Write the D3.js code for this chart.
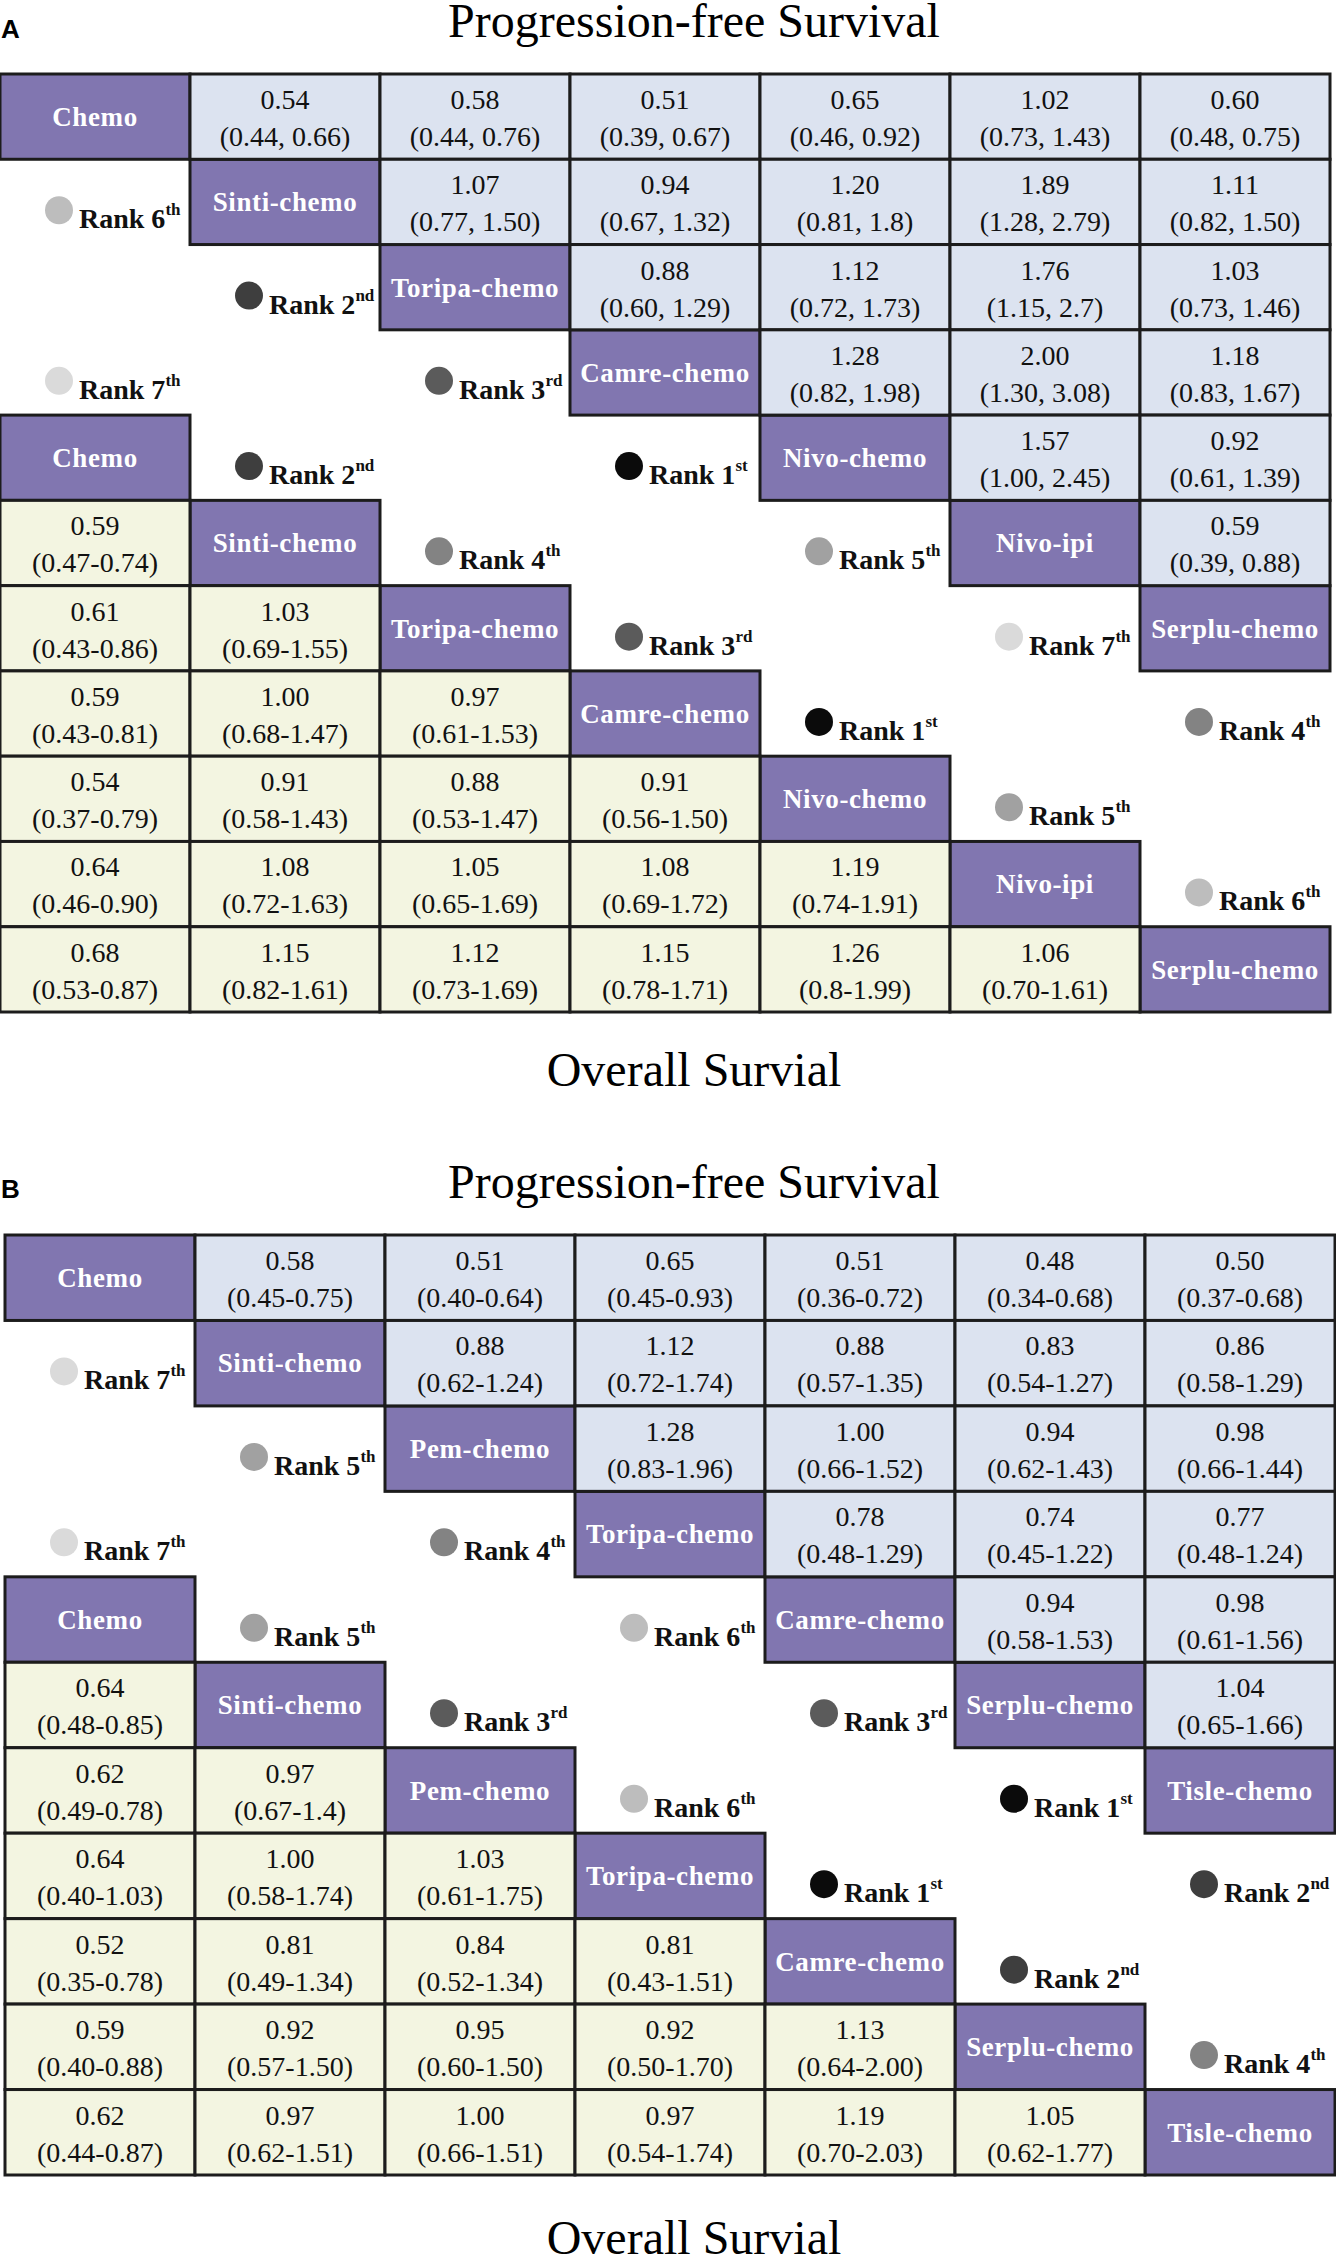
<!DOCTYPE html>
<html>
<head>
<meta charset="utf-8">
<script src="https://cdn.jsdelivr.net/npm/d3@7"></script>
<style>
  body { margin: 0; background: #ffffff; }
  svg { display: block; }
</style>
</head>
<body>
<div id="chart"></div>
<script>
// ---- panel A data ----
const treatA = ['Chemo', 'Sinti-chemo', 'Toripa-chemo', 'Camre-chemo', 'Nivo-chemo', 'Nivo-ipi', 'Serplu-chemo'];
const pfsHrA = [
    ['0.54', '0.58', '0.51', '0.65', '1.02', '0.60'],
    ['1.07', '0.94', '1.20', '1.89', '1.11'],
    ['0.88', '1.12', '1.76', '1.03'],
    ['1.28', '2.00', '1.18'],
    ['1.57', '0.92'],
    ['0.59']
];
const pfsCiA = [
    ['0.44, 0.66', '0.44, 0.76', '0.39, 0.67', '0.46, 0.92', '0.73, 1.43', '0.48, 0.75'],
    ['0.77, 1.50', '0.67, 1.32', '0.81, 1.8', '1.28, 2.79', '0.82, 1.50'],
    ['0.60, 1.29', '0.72, 1.73', '1.15, 2.7', '0.73, 1.46'],
    ['0.82, 1.98', '1.30, 3.08', '0.83, 1.67'],
    ['1.00, 2.45', '0.61, 1.39'],
    ['0.39, 0.88']
];
const osHrA = [
    ['0.59'],
    ['0.61', '1.03'],
    ['0.59', '1.00', '0.97'],
    ['0.54', '0.91', '0.88', '0.91'],
    ['0.64', '1.08', '1.05', '1.08', '1.19'],
    ['0.68', '1.15', '1.12', '1.15', '1.26', '1.06']
];
const osCiA = [
    ['0.47-0.74'],
    ['0.43-0.86', '0.69-1.55'],
    ['0.43-0.81', '0.68-1.47', '0.61-1.53'],
    ['0.37-0.79', '0.58-1.43', '0.53-1.47', '0.56-1.50'],
    ['0.46-0.90', '0.72-1.63', '0.65-1.69', '0.69-1.72', '0.74-1.91'],
    ['0.53-0.87', '0.82-1.61', '0.73-1.69', '0.78-1.71', '0.8-1.99', '0.70-1.61']
];
const pfsRankA = [6, 2, 3, 1, 5, 7, 4];
const osRankA = [7, 2, 4, 3, 1, 5, 6];

// ---- panel B data ----
const treatB = ['Chemo', 'Sinti-chemo', 'Pem-chemo', 'Toripa-chemo', 'Camre-chemo', 'Serplu-chemo', 'Tisle-chemo'];
const pfsHrB = [
    ['0.58', '0.51', '0.65', '0.51', '0.48', '0.50'],
    ['0.88', '1.12', '0.88', '0.83', '0.86'],
    ['1.28', '1.00', '0.94', '0.98'],
    ['0.78', '0.74', '0.77'],
    ['0.94', '0.98'],
    ['1.04']
];
const pfsCiB = [
    ['0.45-0.75', '0.40-0.64', '0.45-0.93', '0.36-0.72', '0.34-0.68', '0.37-0.68'],
    ['0.62-1.24', '0.72-1.74', '0.57-1.35', '0.54-1.27', '0.58-1.29'],
    ['0.83-1.96', '0.66-1.52', '0.62-1.43', '0.66-1.44'],
    ['0.48-1.29', '0.45-1.22', '0.48-1.24'],
    ['0.58-1.53', '0.61-1.56'],
    ['0.65-1.66']
];
const osHrB = [
    ['0.64'],
    ['0.62', '0.97'],
    ['0.64', '1.00', '1.03'],
    ['0.52', '0.81', '0.84', '0.81'],
    ['0.59', '0.92', '0.95', '0.92', '1.13'],
    ['0.62', '0.97', '1.00', '0.97', '1.19', '1.05']
];
const osCiB = [
    ['0.48-0.85'],
    ['0.49-0.78', '0.67-1.4'],
    ['0.40-1.03', '0.58-1.74', '0.61-1.75'],
    ['0.35-0.78', '0.49-1.34', '0.52-1.34', '0.43-1.51'],
    ['0.40-0.88', '0.57-1.50', '0.60-1.50', '0.50-1.70', '0.64-2.00'],
    ['0.44-0.87', '0.62-1.51', '0.66-1.51', '0.54-1.74', '0.70-2.03', '0.62-1.77']
];
const pfsRankB = [7, 5, 4, 6, 3, 1, 2];
const osRankB = [7, 5, 3, 6, 1, 2, 4];

const titles = ['Progression-free Survival', 'Overall Survial'];
const rankShades = ['#0b0b0b', '#3e3e3e', '#5b5b5b', '#838383', '#a1a1a1', '#bdbdbd', '#dadada'];
const suffix = ['st', 'nd', 'rd', 'th', 'th', 'th', 'th'];

const width = 1336, height = 2257;
const serif = '"Liberation Serif", "Times New Roman", serif';

const svg = d3.select('#chart')
    .append('svg')
    .attr('width', width)
    .attr('height', height);

const shade = d3.scaleOrdinal().domain(d3.range(1, 8)).range(rankShades);

function drawPanel(p) {
    const n = p.treat.length;
    const x = d3.scaleBand().domain(d3.range(n)).range([p.x0, p.x0 + 1330]);
    const y = d3.scaleBand().domain(d3.range(n + 4)).range([p.y0, p.y1]);
    const g = svg.append('g');

    // build cell list
    const cells = [];
    for (let k = 0; k < n; k++) {
        cells.push({ r: k, c: k, kind: 'diag', label: p.treat[k] });
        cells.push({ r: k + 4, c: k, kind: 'diag', label: p.treat[k] });
    }
    p.pfsHr.forEach((row, i) => row.forEach((hr, j) => {
        cells.push({ r: i, c: i + j + 1, kind: 'pfs', hr: hr, ci: p.pfsCi[i][j] });
    }));
    p.osHr.forEach((row, i) => row.forEach((hr, j) => {
        cells.push({ r: i + 5, c: j, kind: 'os', hr: hr, ci: p.osCi[i][j] });
    }));

    const fill = { diag: '#8176b0', pfs: '#dce3f0', os: '#f3f5e1' };

    const cell = g.selectAll('g.cell')
        .data(cells)
        .enter()
        .append('g')
        .attr('class', 'cell')
        .attr('transform', d => `translate(${x(d.c)},${y(d.r)})`);

    cell.append('rect')
        .attr('width', x.bandwidth())
        .attr('height', y.bandwidth())
        .attr('fill', d => fill[d.kind])
        .attr('stroke', '#1c1c1c')
        .attr('stroke-width', 3);

    cell.filter(d => d.kind === 'diag')
        .append('text')
        .attr('x', x.bandwidth() / 2)
        .attr('y', 52)
        .attr('text-anchor', 'middle')
        .attr('font-family', serif)
        .attr('font-weight', 'bold')
        .attr('font-size', 27)
        .attr('letter-spacing', 0.6)
        .attr('fill', '#ffffff')
        .text(d => d.label);

    const vals = cell.filter(d => d.kind !== 'diag');
    vals.append('text')
        .attr('x', x.bandwidth() / 2)
        .attr('y', 35)
        .attr('text-anchor', 'middle')
        .attr('font-family', serif)
        .attr('font-size', 28)
        .attr('fill', '#111')
        .text(d => d.hr);
    vals.append('text')
        .attr('x', x.bandwidth() / 2)
        .attr('y', 72)
        .attr('text-anchor', 'middle')
        .attr('font-family', serif)
        .attr('font-size', 28)
        .attr('fill', '#111')
        .text(d => `(${d.ci})`);

    // rank markers: PFS rank just below the diagonal, OS rank just above it
    const ranks = [];
    p.pfsRank.forEach((rk, k) => ranks.push({ r: k + 1, c: k, rank: rk }));
    p.osRank.forEach((rk, k) => ranks.push({ r: k + 3, c: k, rank: rk }));

    const rk = g.selectAll('g.rank')
        .data(ranks)
        .enter()
        .append('g')
        .attr('class', 'rank')
        .attr('transform', d => `translate(${x(d.c)},${y(d.r)})`);

    rk.append('circle')
        .attr('cx', 59)
        .attr('cy', 51)
        .attr('r', 14)
        .attr('fill', d => shade(d.rank));

    const t = rk.append('text')
        .attr('x', 79)
        .attr('y', 69)
        .attr('font-family', serif)
        .attr('font-weight', 'bold')
        .attr('font-size', 28)
        .attr('fill', '#111');
    t.append('tspan').text(d => `Rank ${d.rank}`);
    t.append('tspan')
        .attr('font-size', 17)
        .attr('dy', -13)
        .text(d => suffix[d.rank - 1]);

    // panel letter and titles
    svg.append('text')
        .attr('x', 1)
        .attr('y', p.letterY)
        .attr('font-family', '"Liberation Sans", Arial, sans-serif')
        .attr('font-weight', 'bold')
        .attr('font-size', 26)
        .text(p.letter);

    svg.append('text')
        .attr('x', 694)
        .attr('y', p.titleY)
        .attr('text-anchor', 'middle')
        .attr('font-family', serif)
        .attr('font-size', 48)
        .attr('fill', '#000')
        .text(titles[0]);

    svg.append('text')
        .attr('x', 694)
        .attr('y', p.osTitleY)
        .attr('text-anchor', 'middle')
        .attr('font-family', serif)
        .attr('font-size', 48)
        .attr('fill', '#000')
        .text(titles[1]);
}

drawPanel({
    letter: 'A', letterY: 38, titleY: 37, osTitleY: 1086,
    x0: 0, y0: 74, y1: 1012,
    treat: treatA, pfsHr: pfsHrA, pfsCi: pfsCiA, osHr: osHrA, osCi: osCiA,
    pfsRank: pfsRankA, osRank: osRankA
});

drawPanel({
    letter: 'B', letterY: 1198, titleY: 1198, osTitleY: 2254,
    x0: 5, y0: 1235, y1: 2175,
    treat: treatB, pfsHr: pfsHrB, pfsCi: pfsCiB, osHr: osHrB, osCi: osCiB,
    pfsRank: pfsRankB, osRank: osRankB
});
</script>
</body>
</html>
